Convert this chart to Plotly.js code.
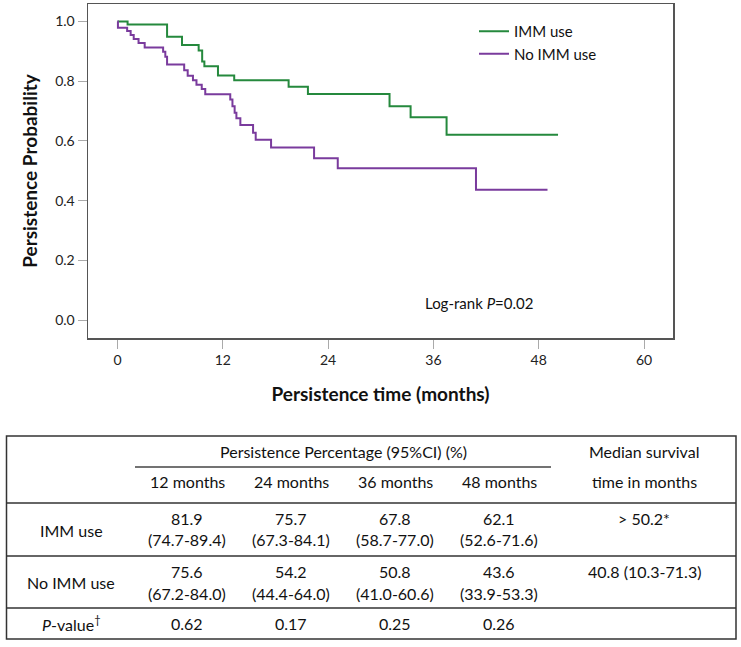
<!DOCTYPE html>
<html>
<head>
<meta charset="utf-8">
<script src="https://cdn.plot.ly/plotly-3.0.1.min.js"></script>
<style>
html,body{margin:0;padding:0;background:#fff;}
#chart{width:741px;height:647px;}
</style>
</head>
<body>
<div id="chart"></div>
<script>
// ---- Kaplan-Meier step data ----
const immTime = [0, 1.15, 5.65, 7.35, 9.25, 9.65, 9.9, 11.45, 13.3, 19.5, 21.7, 31.0, 33.4, 37.5, 50.2];
const immSurv = [1.0, 0.990, 0.949, 0.921, 0.903, 0.866, 0.850, 0.819, 0.803, 0.781, 0.757, 0.716, 0.679, 0.621, 0.621];

const noTime = [0, 0.05, 1.1, 1.5, 1.85, 2.4, 3.1, 5.2, 5.45, 5.65, 7.6, 8.0, 8.6, 9.0, 9.6, 10.0,
                12.85, 13.1, 13.35, 13.55, 14.0, 15.45, 15.75, 17.5, 22.4, 25.1, 40.85, 49.0];
const noSurv = [1.0, 0.979, 0.968, 0.955, 0.941, 0.928, 0.913, 0.899, 0.882, 0.856, 0.837, 0.818, 0.803, 0.788, 0.774, 0.756,
                0.739, 0.716, 0.694, 0.676, 0.653, 0.627, 0.604, 0.578, 0.542, 0.508, 0.436, 0.436];

const seriesNames = ['IMM use', 'No IMM use'];
const xTicks = [0, 12, 24, 36, 48, 60];
const yTicks = [0.0, 0.2, 0.4, 0.6, 0.8, 1.0];
const yTickText = ['0.0', '0.2', '0.4', '0.6', '0.8', '1.0'];

// ---- Table contents ----
const groupHeader = 'Persistence Percentage (95%CI) (%)';
const medianHeader = ['Median survival', 'time in months'];
const colHeaders = ['12 months', '24 months', '36 months', '48 months'];
const rowLabels = ['IMM use', 'No IMM use', '<i>P</i>-value<sup>†</sup>'];
const immPct = ['81.9', '75.7', '67.8', '62.1'];
const immCI = ['(74.7-89.4)', '(67.3-84.1)', '(58.7-77.0)', '(52.6-71.6)'];
const noPct = ['75.6', '54.2', '50.8', '43.6'];
const noCI = ['(67.2-84.0)', '(44.4-64.0)', '(41.0-60.6)', '(33.9-53.3)'];
const pValues = ['0.62', '0.17', '0.25', '0.26'];
const medians = ['> 50.2*', '40.8 (10.3-71.3)'];
const logRank = 'Log-rank <i>P</i>=0.02';

// ---- layout helpers (pixel -> paper) ----
const W = 741, H = 647;
const PX = x => x / W;
const PY = y => 1 - y / H;
const FONT = 'Lato, "Open Sans", sans-serif';
const GREEN = '#25893d', PURPLE = '#7a3b9d';

const traces = [
  {x: immTime, y: immSurv, name: seriesNames[0], type: 'scatter', mode: 'lines',
   line: {shape: 'hv', color: GREEN, width: 2}},
  {x: noTime, y: noSurv, name: seriesNames[1], type: 'scatter', mode: 'lines',
   line: {shape: 'hv', color: PURPLE, width: 2}}
];

const annotations = [];
const shapes = [];
function txt(text, x, y, size, opts) {
  annotations.push(Object.assign({
    text: text, xref: 'paper', yref: 'paper', x: PX(x), y: PY(y),
    xanchor: 'center', yanchor: 'middle', showarrow: false,
    font: {family: FONT, size: size, color: '#111'}
  }, opts || {}));
}
function hline(x0, x1, y, w, c) {
  shapes.push({type: 'line', xref: 'paper', yref: 'paper', x0: PX(x0), x1: PX(x1), y0: PY(y), y1: PY(y),
    line: {color: c || '#333', width: w || 1.5}});
}

// Log-rank annotation
txt(logRank, 479, 303, 15);

// Table frame
const TL = 6.5, TR = 736, TT = 436, TB = 639;
shapes.push({type: 'rect', xref: 'paper', yref: 'paper', x0: PX(TL), x1: PX(TR), y0: PY(TB), y1: PY(TT),
  line: {color: '#333', width: 1.5}, fillcolor: 'rgba(0,0,0,0)'});
hline(135, 551, 467, 1.5, '#444');
hline(TL, TR, 503);
hline(TL, TR, 556);
hline(TL, TR, 608);

const TS = 16;
const colX = [187, 291, 395, 499];
const medX = 644;
const labX = 71;
txt(groupHeader, 343, 451, TS);
txt(medianHeader[0], medX, 451, TS);
txt(medianHeader[1], medX, 481, TS);
colHeaders.forEach((t, i) => txt(t, colX[i], 481, TS));

txt(rowLabels[0], labX, 530, TS);
immPct.forEach((t, i) => txt(t, colX[i], 518, TS));
immCI.forEach((t, i) => txt(t, colX[i], 539, TS));
txt(medians[0], medX, 518, TS);

txt(rowLabels[1], labX, 582, TS);
noPct.forEach((t, i) => txt(t, colX[i], 571, TS));
noCI.forEach((t, i) => txt(t, colX[i], 593, TS));
txt(medians[1], medX, 571, TS);

txt(rowLabels[2], labX, 623, TS);
pValues.forEach((t, i) => txt(t, colX[i], 623, TS));

const layout = {
  width: W, height: H,
  margin: {l: 0, r: 0, t: 0, b: 0},
  paper_bgcolor: '#fff', plot_bgcolor: '#fff',
  font: {family: FONT, size: 14, color: '#111'},
  showlegend: true,
  legend: {x: PX(474), y: PY(15), xanchor: 'left', yanchor: 'top',
           font: {family: FONT, size: 15, color: '#111'}, bgcolor: 'rgba(0,0,0,0)',
           tracegroupgap: 0, itemwidth: 30},
  xaxis: {
    domain: [PX(88), PX(673)], range: [-3.36, 63.3],
    tickvals: xTicks, ticks: 'outside', ticklen: 9, tickcolor: '#aaa', tickwidth: 1,
    showline: true, mirror: true, linecolor: '#555', linewidth: 1.5,
    showgrid: false, zeroline: false, automargin: false,
    tickfont: {family: FONT, size: 14, color: '#222'},
    title: {text: '<b>Persistence time (months)</b>', font: {family: FONT, size: 19, color: '#111'}, standoff: 20}
  },
  yaxis: {
    domain: [PY(338), PY(4)], range: [-0.0603, 1.0586],
    tickvals: yTicks, ticktext: yTickText, ticks: 'outside', ticklen: 9, tickcolor: '#aaa', tickwidth: 1,
    showline: true, mirror: true, linecolor: '#555', linewidth: 1.5,
    showgrid: false, zeroline: false, automargin: false,
    tickfont: {family: FONT, size: 14, color: '#222'},
    title: {text: '<b>Persistence Probability</b>', font: {family: FONT, size: 19, color: '#111'}, standoff: 12}
  },
  annotations: annotations,
  shapes: shapes
};

Plotly.newPlot('chart', traces, layout, {displayModeBar: false, staticPlot: true});
</script>
</body>
</html>
